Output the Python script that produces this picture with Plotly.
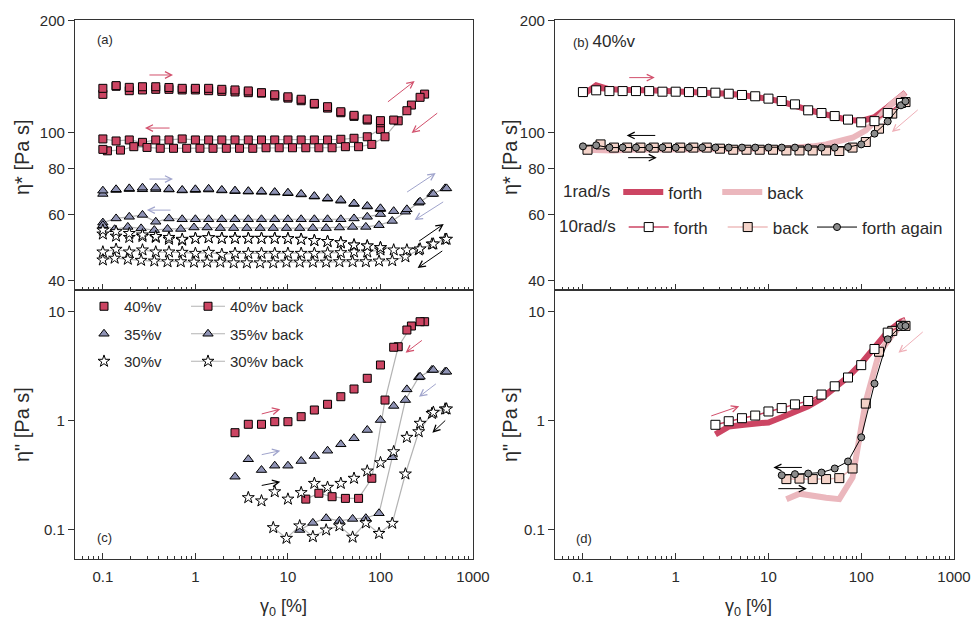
import math
import plotly.graph_objects as go

# ---------------------------------------------------------------------------
# strain-amplitude grids (%), logarithmic sweeps with 7 points per decade
GAMMA_UP = [0.1, 0.139, 0.193, 0.268, 0.373, 0.518, 0.72, 1.0, 1.39, 1.93,
            2.68, 3.73, 5.18, 7.2, 10.0, 13.9, 19.3, 26.8, 37.3, 51.8,
            72.0, 100.0, 139.0, 193.0, 268.0, 373.0, 518.0]
GAMMA_UP_300 = GAMMA_UP[:25] + [300.0]
GAMMA_DOWN_300 = [300, 216, 155.5, 112, 80.6, 58.0, 41.8, 30.0, 21.6, 15.6,
                  11.2, 8.05, 5.8, 4.17, 3.0, 2.16, 1.55, 1.12, 0.805, 0.58,
                  0.417, 0.3, 0.216, 0.155, 0.112, 0.1]
GAMMA_DOWN_500 = [500, 360, 259, 186, 134, 96.5, 69.5, 50.0, 36.0, 25.9,
                  18.6, 13.4, 9.65, 6.94, 5.0, 3.6, 2.59, 1.86, 1.34, 0.965,
                  0.695, 0.5, 0.36, 0.259, 0.186, 0.134, 0.1]

# ---------------------------------------------------------------------------
# (a) complex viscosity eta* [Pa s], 10 rad/s
ETA_40_FWD_A = [131.3, 133.5, 132.1, 132.6, 132.6, 132.0, 131.3, 131.3, 131.3, 130.5,
                130.0, 129.2, 127.8, 126.2, 124.6, 122.7, 119.6, 117.2, 113.6, 111.1,
                108.6, 107.5]
ETA_40_FWD_B = [126.5, 133.0, 129.4, 130.0, 130.5, 130.5, 130.0, 130.0, 129.4, 128.9,
                128.4, 127.8, 127.5, 125.2, 123.6, 121.6, 119.1, 116.2, 112.9, 110.4,
                107.9, 106.1, 107.9, 114.3, 124.2]
ETA_40_BACK_A = [96.0, 94.8, 95.4, 94.0, 95.4, 95.4, 96.0, 95.4, 95.4, 95.4,
                 95.4, 95.4, 95.4, 95.4, 95.4, 95.4, 95.4, 95.4, 95.8, 96.4,
                 97.3, 101.9]
ETA_40_BACK_B = [126.7, 118.4, 107.4, 97.3, 92.8, 91.5, 91.5, 90.9, 90.9, 90.9,
                 90.9, 90.9, 90.9, 90.6, 90.6, 90.6, 90.6, 90.6, 90.6, 90.6,
                 90.6, 91.1, 91.5, 89.6, 89.2, 90.0]

ETA_35_FWD_A = [69.7, 70.3, 70.7, 71.0, 71.0, 70.4, 70.0, 70.3, 70.5, 70.0,
                69.7, 69.5, 69.4, 69.1, 68.8, 68.3, 67.4, 66.5, 65.8, 64.4,
                63.4, 62.5]
ETA_35_FWD_B = [68.3, 70.0, 70.4, 70.3, 70.4, 70.2, 69.8, 70.0, 70.2, 69.8,
                69.5, 69.3, 69.2, 68.9, 68.6, 68.1, 67.2, 66.3, 65.5, 64.2,
                63.2, 62.2, 61.4, 62.1, 65.1, 68.3, 70.7]
ETA_35_BACK_A = [57.2, 58.7, 59.3, 60.0, 57.5, 58.7, 58.4, 58.4, 58.4, 58.4,
                 58.4, 58.4, 58.4, 58.4, 58.4, 58.4, 58.4, 58.4, 58.4, 58.7,
                 59.3, 60.3]
ETA_35_BACK_B = [70.7, 68.3, 64.7, 61.2, 57.8, 56.3, 55.7, 55.7, 55.5, 55.3,
                 55.3, 55.3, 55.3, 55.3, 55.3, 55.3, 55.3, 55.3, 55.5, 55.5,
                 55.0, 55.0, 54.6, 55.2, 55.7, 54.9, 56.3]

ETA_30_FWD_A = [54.6, 54.1, 53.5, 53.0, 52.5, 52.2, 51.6, 51.9, 52.1, 51.9,
                51.9, 51.9, 51.9, 51.9, 51.8, 51.6, 51.2, 50.9, 50.5, 49.8,
                49.5, 49.0]
ETA_30_FWD_B = [53.3, 52.6, 52.2, 52.5, 52.2, 51.6, 51.3, 51.9, 52.1, 51.9,
                51.9, 51.9, 51.9, 51.9, 51.8, 51.6, 51.2, 50.9, 50.5, 49.8,
                49.5, 49.0, 48.3, 48.3, 48.6, 50.1, 51.6]
ETA_30_BACK_A = [47.7, 48.5, 47.7, 48.3, 47.7, 47.7, 47.6, 47.3, 47.6, 47.0,
                 47.3, 47.3, 47.3, 47.3, 47.3, 47.3, 47.3, 47.4, 47.5, 47.7,
                 47.7, 48.3]
ETA_30_BACK_B = [51.6, 50.1, 48.3, 46.3, 45.2, 45.1, 44.9, 44.9, 44.9, 44.8,
                 44.8, 44.8, 44.8, 44.6, 44.6, 44.6, 44.6, 44.8, 44.8, 44.8,
                 44.9, 44.9, 45.1, 45.3, 45.6, 45.9, 45.4]

# (c) loss viscosity eta'' [Pa s]
ETA2_40_FWD = [0.773, 0.923, 0.923, 0.975, 0.975, 1.084, 1.248, 1.408, 1.653, 1.945,
               2.438, 3.23, 4.70, 6.76, 8.06]                       # from 2.68 %
ETA2_40_BACK = [8.06, 7.36, 4.75, 1.54, 0.295, 0.193, 0.193, 0.200, 0.215, 0.190]
ETA2_35_FWD = [0.305, 0.441, 0.351, 0.385, 0.385, 0.425, 0.472, 0.528, 0.605, 0.687,
               0.818, 1.01, 1.36, 1.93, 2.52, 2.91, 2.80]            # from 2.68 %
ETA2_35_BACK = [2.80, 2.91, 2.49, 1.54, 0.46, 0.141, 0.127, 0.125, 0.120, 0.127,
                0.115, 0.099]
ETA2_30_FWD = [0.196, 0.183, 0.222, 0.190, 0.218, 0.265, 0.244, 0.265, 0.295, 0.344,
               0.410, 0.517, 0.701, 0.943, 1.19, 1.275]              # from 3.73 %
ETA2_30_BACK = [1.275, 1.16, 0.789, 0.323, 0.114, 0.092, 0.115, 0.085, 0.108, 0.099,
                0.086, 0.108, 0.083, 0.104]

# (b) 40%v eta* at 1 and 10 rad/s
ETA_1RAD_FORTH = [126.1, 133.7, 130.5, 129.7, 129.7, 129.7, 129.4, 129.1, 128.8, 128.3,
                  127.8, 127.0, 126.0, 124.8, 123.0, 121.0, 118.5, 115.0, 112.5, 110.3,
                  108.0, 107.4, 109.9, 116.9, 125.0, 128.0]
ETA_1RAD_BACK = [127.5, 119.7, 109.7, 101.2, 96.7, 94.3, 92.8, 91.7, 90.9, 90.6,
                 90.4, 90.4, 90.2, 90.2, 90.2, 90.2, 90.2, 90.2, 90.2, 90.0,
                 90.0, 89.8, 89.4, 89.4, 89.1, 89.8]
ETA_10RAD_FORTH = [128.3, 129.7, 129.1, 129.1, 129.1, 129.1, 128.6, 128.6, 128.3, 128.3,
                   127.8, 127.0, 126.0, 125.0, 123.2, 121.4, 118.9, 114.6, 112.7, 110.6,
                   108.2, 106.4, 107.2, 112.7, 119.9]
ETA_10RAD_BACK = [120.6, 112.3, 102.3, 94.2, 91.0, 89.1, 89.4, 89.4, 89.4, 89.4,
                  89.8, 89.8, 89.8, 89.8, 90.4, 91.0, 91.0, 91.0, 91.0, 91.0,
                  91.0, 91.0, 91.0, 92.8, 89.8]
ETA_10RAD_AGAIN = [91.7, 92.3, 91.0, 91.0, 91.0, 91.0, 91.0, 91.0, 91.0, 91.0,
                   91.0, 91.0, 91.0, 91.0, 91.0, 91.0, 91.0, 91.0, 91.0, 91.0,
                   91.3, 92.8, 99.2, 107.0, 118.2, 121.2]

# (d) 40%v eta'' at 1 and 10 rad/s
ETA2_1RAD_FORTH = [0.745, 0.88, 0.91, 0.93, 0.96, 1.07, 1.19, 1.35, 1.59, 1.96,
                   2.51, 3.34, 4.75, 6.53, 8.08, 8.38]               # from 2.68 %
ETA2_1RAD_BACK = [8.3, 6.1, 4.13, 1.5, 0.30, 0.19, 0.196, 0.203, 0.213, 0.189]
ETA2_10RAD_FORTH = [0.913, 0.985, 1.05, 1.11, 1.21, 1.30, 1.405, 1.51, 1.73, 2.06,
                    2.48, 3.22, 4.53, 6.40, 7.38]                    # from 2.68 %
ETA2_10RAD_BACK = [7.38, 6.64, 4.27, 1.43, 0.363, 0.296, 0.29, 0.29, 0.293, 0.29]
ETA2_10RAD_AGAIN = [0.315, 0.322, 0.326, 0.333, 0.363, 0.421, 0.701, 2.18, 5.56, 7.38,
                    7.38]                                            # from 13.9 %

# ---------------------------------------------------------------------------
W, H = 974, 621
FONT = "Liberation Sans, Arial, sans-serif"
INK = "#2a2a2a"
RED = "#cc4563"
LAV = "#8f93b5"
RED_ARROW = "#d2506c"
LAV_ARROW = "#a0a4cc"
PALE_THICK = "#ebb7bd"
PALE_FILL = "#f4d3c9"
GREY_LINE = "#b3b3b3"


def px(x):
    return x / W


def py(y):
    return 1 - y / H


XA = [px(75), px(473)]
XB = [px(555), px(954)]
Y_TOP = [py(290), py(20)]
Y_BOT = [py(559), py(290)]

SQ = dict(symbol="square", size=8, color=RED, line=dict(color="black", width=1))
TRI = dict(symbol="triangle-up", size=9, color=LAV, line=dict(color="black", width=1))
STAR = dict(symbol="star", size=9, color="white", line=dict(color="black", width=1))

fig = go.Figure()


def markers(xa, ya, g, v, mk, **kw):
    fig.add_trace(go.Scatter(x=g[:len(v)], y=v, mode="markers", marker=mk,
                             xaxis=xa, yaxis=ya, showlegend=False, **kw))


def back(xa, ya, g, v, mk, **kw):
    fig.add_trace(go.Scatter(x=g[:len(v)], y=v, mode="lines+markers", marker=mk,
                             line=dict(color=GREY_LINE, width=1.2),
                             xaxis=xa, yaxis=ya, showlegend=False, **kw))


# (a)
for fa, fb, ba, bb, mk in [
        (ETA_40_FWD_A, ETA_40_FWD_B, ETA_40_BACK_A, ETA_40_BACK_B, SQ),
        (ETA_35_FWD_A, ETA_35_FWD_B, ETA_35_BACK_A, ETA_35_BACK_B, TRI),
        (ETA_30_FWD_A, ETA_30_FWD_B, ETA_30_BACK_A, ETA_30_BACK_B, STAR)]:
    back("x", "y", GAMMA_UP, ba, mk)
    back("x", "y", GAMMA_DOWN_300 if mk is SQ else GAMMA_DOWN_500, bb, mk)
    markers("x", "y", GAMMA_UP, fb, mk)
    markers("x", "y", GAMMA_UP, fa, mk)

# (c)
for name, fwd, bk, g0, gdown, mk in [
        ("40%v", ETA2_40_FWD, ETA2_40_BACK, 10, GAMMA_DOWN_300, SQ),
        ("35%v", ETA2_35_FWD, ETA2_35_BACK, 10, GAMMA_DOWN_500, TRI),
        ("30%v", ETA2_30_FWD, ETA2_30_BACK, 11, GAMMA_DOWN_500, STAR)]:
    fig.add_trace(go.Scatter(x=gdown[:len(bk)], y=bk, mode="lines+markers", marker=mk,
                             line=dict(color=GREY_LINE, width=1.2), name=name + " back",
                             xaxis="x3", yaxis="y3", legend="legend2",
                             legendgroup=name + "b"))
    fig.add_trace(go.Scatter(x=GAMMA_UP[g0:g0 + len(fwd)], y=fwd, mode="markers",
                             marker=mk, name=name, xaxis="x3", yaxis="y3",
                             legend="legend", legendgroup=name))

# (b) and (d)
for xa, ya, f1, b1, f10, b10, ag, gf, ga, leg in [
        ("x2", "y2", ETA_1RAD_FORTH, ETA_1RAD_BACK, ETA_10RAD_FORTH, ETA_10RAD_BACK,
         ETA_10RAD_AGAIN, 0, 0, True),
        ("x4", "y4", ETA2_1RAD_FORTH, ETA2_1RAD_BACK, ETA2_10RAD_FORTH, ETA2_10RAD_BACK,
         ETA2_10RAD_AGAIN, 10, 15, False)]:
    fig.add_trace(go.Scatter(x=GAMMA_UP_300[gf:gf + len(f1)], y=f1, mode="lines",
                             line=dict(color=RED, width=6), name="forth",
                             xaxis=xa, yaxis=ya, legend="legend3", legendrank=1,
                             showlegend=leg))
    fig.add_trace(go.Scatter(x=GAMMA_DOWN_300[:len(b1)], y=b1, mode="lines",
                             line=dict(color=PALE_THICK, width=6), name="back",
                             xaxis=xa, yaxis=ya, legend="legend3", legendrank=2,
                             showlegend=leg))
    fig.add_trace(go.Scatter(x=GAMMA_DOWN_300[:len(b10)], y=b10, mode="lines+markers",
                             line=dict(color="#eebcbc", width=1.5),
                             marker=dict(symbol="square", size=9, color=PALE_FILL,
                                         line=dict(color="black", width=1)),
                             name="back", xaxis=xa, yaxis=ya, legend="legend4",
                             legendrank=2, showlegend=leg))
    fig.add_trace(go.Scatter(x=GAMMA_UP[gf:gf + len(f10)], y=f10, mode="lines+markers",
                             line=dict(color=RED, width=1.5),
                             marker=dict(symbol="square", size=9, color="white",
                                         line=dict(color="black", width=1)),
                             name="forth", xaxis=xa, yaxis=ya, legend="legend4",
                             legendrank=1, showlegend=leg))
    fig.add_trace(go.Scatter(x=GAMMA_UP_300[ga:ga + len(ag)], y=ag, mode="lines+markers",
                             line=dict(color="black", width=1),
                             marker=dict(symbol="circle", size=7, color="#8c8c8c",
                                         line=dict(color="black", width=1)),
                             name="forth again", xaxis=xa, yaxis=ya, legend="legend5",
                             showlegend=leg))

# ---------------------------------------------------------------------------
MINOR_X = [m * 10 ** e for e in range(-2, 3) for m in range(2, 10)]
tickfont = dict(family=FONT, size=15, color=INK)


def xaxis(domain, anchor, labels):
    return dict(domain=domain, anchor=anchor, type="log",
                range=[math.log10(0.05), 3], showline=True, linecolor="#333",
                linewidth=1.2, mirror=True, ticks="inside", ticklen=6, tickwidth=1,
                tickcolor="#333", tickvals=[0.1, 1, 10, 100, 1000],
                ticktext=["0.1", "1", "10", "100", "1000"], showticklabels=labels,
                ticklabelstandoff=4,
                minor=dict(ticks="inside", ticklen=3, tickcolor="#333",
                           tickvals=MINOR_X, showgrid=False),
                showgrid=False, zeroline=False, tickfont=tickfont)


def yaxis(domain, anchor, rng, vals, text):
    return dict(domain=domain, anchor=anchor, type="log", range=rng, showline=True,
                linecolor="#333", linewidth=1.2, mirror=True, ticks="outside",
                ticklen=6, tickwidth=1, tickcolor="#333", tickvals=vals,
                ticktext=text, showgrid=False, zeroline=False, tickfont=tickfont)


YR_TOP = [math.log10(37.7), math.log10(200.4)]
YR_BOT = [-1.2706, 1.1972]
TOP_T = ([40, 60, 80, 100, 200], ["40", "60", "80", "100", "200"])
BOT_T = ([0.1, 1, 10], ["0.1", "1", "10"])

L = math.log10


def arrow(xr, yr, tail, tip, color):
    return dict(xref=xr, yref=yr, axref=xr, ayref=yr,
                x=L(tip[0]), y=L(tip[1]), ax=L(tail[0]), ay=L(tail[1]),
                text="", showarrow=True, arrowhead=5, arrowsize=1.3,
                arrowwidth=1, arrowcolor=color)


annotations = [
    # (a)
    arrow("x", "y", (0.307, 142.6), (0.573, 142.6), RED_ARROW),
    arrow("x", "y", (0.546, 102.7), (0.285, 102.7), RED_ARROW),
    arrow("x", "y", (116, 119.9), (234, 137.4), RED_ARROW),
    arrow("x", "y", (426, 113.4), (217, 99.6), RED_ARROW),
    arrow("x", "y", (0.307, 74.9), (0.573, 74.9), LAV_ARROW),
    arrow("x", "y", (0.559, 61.8), (0.299, 61.8), LAV_ARROW),
    arrow("x", "y", (187, 68.7), (395, 77.7), LAV_ARROW),
    arrow("x", "y", (494, 65.4), (234, 58.1), LAV_ARROW),
    arrow("x", "y", (252, 50.7), (483, 56.7), "black"),
    arrow("x", "y", (483, 48.3), (252, 43.2), "black"),
    # (c)
    arrow("x3", "y3", (5.02, 1.14), (8.27, 1.27), RED_ARROW),
    arrow("x3", "y3", (5.02, 0.483), (8.27, 0.528), LAV_ARROW),
    arrow("x3", "y3", (5.02, 0.252), (8.27, 0.274), "black"),
    arrow("x3", "y3", (291, 5.56), (187, 4.19), RED_ARROW),
    arrow("x3", "y3", (412, 2.22), (261, 1.65), LAV_ARROW),
    arrow("x3", "y3", (520, 1.03), (364, 0.773), "black"),
    # (b)
    arrow("x2", "y2", (0.304, 140.3), (0.595, 140.3), RED_ARROW),
    arrow("x2", "y2", (0.625, 98.1), (0.296, 98.1), "black"),
    arrow("x2", "y2", (0.296, 85.5), (0.625, 85.5), "black"),
    arrow("x2", "y2", (422, 115.8), (214, 100.2), "#efb0b8"),
    # (d)
    arrow("x4", "y4", (2.33, 1.09), (4.84, 1.35), RED_ARROW),
    arrow("x4", "y4", (23.8, 0.371), (11.3, 0.371), "black"),
    arrow("x4", "y4", (12.3, 0.237), (25.9, 0.237), "black"),
    arrow("x4", "y4", (478, 6.67), (252, 4.18), "#efb0b8"),
]


def label(x, y, text, size=13, angle=0, anchor="left"):
    return dict(xref="paper", yref="paper", x=px(x), y=py(y), text=text,
                showarrow=False, textangle=angle, xanchor=anchor, yanchor="middle",
                font=dict(family=FONT, size=size, color=INK))


annotations += [
    label(95, 40, "(a)"),
    label(571, 42, "(b) <span style='font-size:17px'>40%v</span>"),
    label(95, 537, "(c)"),
    label(574, 538, "(d)"),
    label(22, 157, "η* [Pa s]", 20, -90, "center"),
    label(22, 425, "η\" [Pa s]", 20, -90, "center"),
    label(510, 157, "η* [Pa s]", 20, -90, "center"),
    label(510, 425, "η\" [Pa s]", 20, -90, "center"),
    label(283, 607, "γ<sub>0</sub> [%]", 18, 0, "center"),
    label(748, 607, "γ<sub>0</sub> [%]", 18, 0, "center"),
]

legfont = dict(family=FONT, size=15, color=INK)
legfont_b = dict(family=FONT, size=17, color=INK)
clear = "rgba(0,0,0,0)"

fig.update_layout(
    width=W, height=H, margin=dict(l=0, r=0, t=0, b=0, autoexpand=False),
    paper_bgcolor="white", plot_bgcolor="white",
    font=dict(family=FONT, color=INK),
    xaxis=xaxis(XA, "y", False), yaxis=yaxis(Y_TOP, "x", YR_TOP, *TOP_T),
    xaxis2=xaxis(XB, "y2", False), yaxis2=yaxis(Y_TOP, "x2", YR_TOP, *TOP_T),
    xaxis3=xaxis(XA, "y3", True), yaxis3=yaxis(Y_BOT, "x3", YR_BOT, *BOT_T),
    xaxis4=xaxis(XB, "y4", True), yaxis4=yaxis(Y_BOT, "x4", YR_BOT, *BOT_T),
    legend=dict(x=px(84), y=py(290), xanchor="left", yanchor="top",
                bgcolor=clear, font=legfont, traceorder="grouped",
                tracegroupgap=5),
    legend2=dict(x=px(186), y=py(290), xanchor="left", yanchor="top",
                 bgcolor=clear, font=legfont, traceorder="grouped",
                 tracegroupgap=5, itemwidth=34),
    legend3=dict(x=px(561), y=py(174.5), xanchor="left", yanchor="top",
                 orientation="h", bgcolor=clear, font=legfont_b,
                 title=dict(text="1rad/s", side="left", font=legfont_b),
                 entrywidth=44, itemwidth=40),
    legend4=dict(x=px(557), y=py(209.5), xanchor="left", yanchor="top",
                 orientation="h", bgcolor=clear, font=legfont_b,
                 title=dict(text="10rad/s", side="left", font=legfont_b),
                 entrywidth=44, itemwidth=40),
    legend5=dict(x=px(812), y=py(209.5), xanchor="left", yanchor="top",
                 orientation="h", bgcolor=clear, font=legfont_b, itemwidth=40),
    annotations=annotations,
)

fig.write_html("out.html")
